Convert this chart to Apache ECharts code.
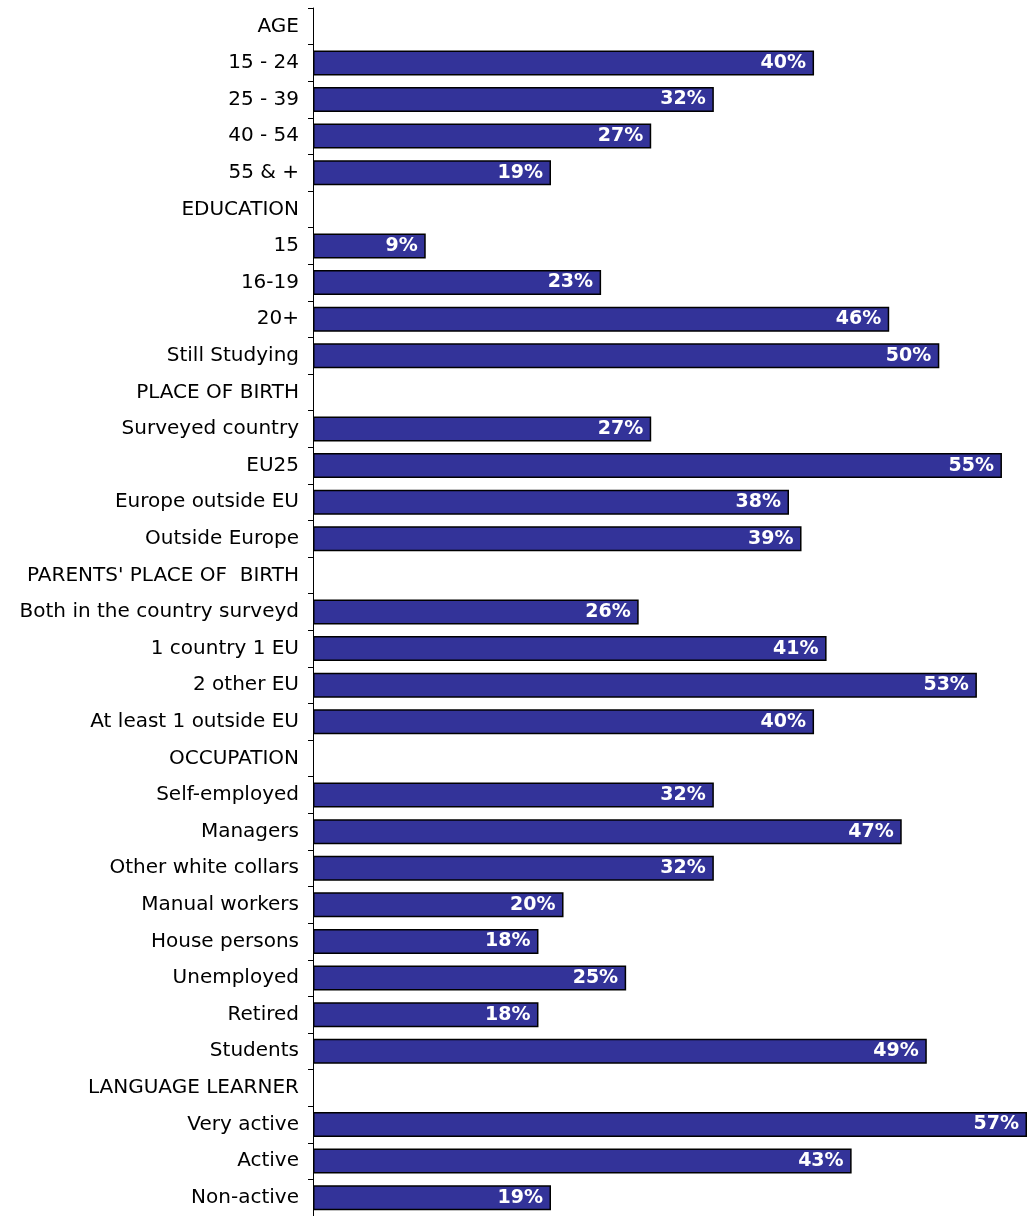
<!DOCTYPE html>
<html><head><meta charset="utf-8">
<script src="https://cdn.jsdelivr.net/npm/echarts@6/dist/echarts.min.js"></script>
<style>html,body{margin:0;padding:0;background:#fff}#c{width:1029px;height:1216px}</style>
</head><body><div id="c"></div>
<script>
const categories = ["AGE","15 - 24","25 - 39","40 - 54","55 & +","EDUCATION","15","16-19","20+","Still Studying","PLACE OF BIRTH","Surveyed country","EU25","Europe outside EU","Outside Europe","PARENTS' PLACE OF  BIRTH","Both in the country surveyd","1 country 1 EU","2 other EU","At least 1 outside EU","OCCUPATION","Self-employed","Managers","Other white collars","Manual workers","House persons","Unemployed","Retired","Students","LANGUAGE LEARNER","Very active","Active","Non-active"];
const values = [null,40,32,27,19,null,9,23,46,50,null,27,55,38,39,null,26,41,53,40,null,32,47,32,20,18,25,18,49,null,57,43,19];

const chart = echarts.init(document.getElementById('c'));
chart.setOption({
  animation:false,
  grid:{left:313,top:8,width:714,height:1212,containLabel:false},
  xAxis:{type:'value',min:0,max:57,show:false},
  yAxis:{type:'category',data:categories,inverse:true,
    axisLine:{lineStyle:{color:'#000',width:1}},
    axisTick:{show:true,length:5,lineStyle:{color:'#000'}},
    axisLabel:{color:'#000',fontFamily:'"DejaVu Sans"',fontSize:20,margin:14,interval:0,padding:[3,0,0,0]}},
  series:[{type:'bar',data:values,barWidth:25,
    itemStyle:{color:'#333399',borderColor:'#000',borderWidth:1.5},
    label:{show:true,position:'insideRight',distance:8,color:'#fff',fontFamily:'"DejaVu Sans"',fontWeight:'bold',fontSize:19,
      padding:[3,0,0,0],
      formatter:p=>p.value==null?'':p.value+'%'}}]
});
</script></body></html>
